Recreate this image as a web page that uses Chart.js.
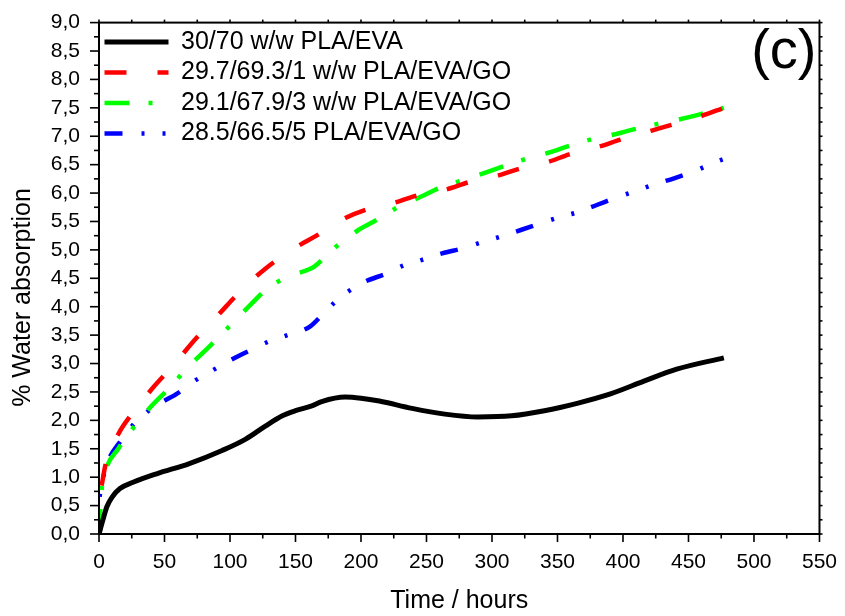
<!DOCTYPE html>
<html>
<head>
<meta charset="utf-8">
<script src="https://cdn.jsdelivr.net/npm/chart.js@4.4.1/dist/chart.umd.min.js"></script>
<style>
  html, body { margin: 0; padding: 0; background: #fff; }
  #wrap { width: 845px; height: 616px; position: relative; }
</style>
</head>
<body>
<div id="wrap"><canvas id="waterChart"></canvas></div>
<script>
'use strict';

// legend texts
const seriesLabels = [
    '30/70 w/w PLA/EVA',
    '29.7/69.3/1 w/w PLA/EVA/GO',
    '29.1/67.9/3 w/w PLA/EVA/GO',
    '28.5/66.5/5 PLA/EVA/GO'
];

// 30/70 PLA/EVA
const hoursBlend = [0, 3, 6, 10, 16, 26, 44, 69, 94, 112, 127, 140, 150, 163, 170, 188, 200, 214, 239, 264, 289, 315, 340, 365, 391, 416, 441, 477];
const waterBlend = [0, 0.25, 0.48, 0.65, 0.8, 0.91, 1.06, 1.24, 1.47, 1.67, 1.9, 2.08, 2.17, 2.26, 2.33, 2.41, 2.39, 2.34, 2.21, 2.11, 2.06, 2.08, 2.17, 2.3, 2.47, 2.69, 2.9, 3.1];

// 1 % GO
const hoursGo1 = [2, 5, 15, 24, 41, 56, 74, 90, 110, 127, 150, 166, 188, 204, 227, 243, 266, 282, 305, 320, 343, 359, 382, 398, 422, 437, 459, 477];
const waterGo1 = [0.85, 1.22, 1.77, 2.08, 2.57, 2.95, 3.44, 3.83, 4.32, 4.67, 5.04, 5.25, 5.56, 5.71, 5.84, 5.96, 6.07, 6.19, 6.31, 6.42, 6.55, 6.68, 6.82, 6.94, 7.1, 7.2, 7.35, 7.5];

// 3 % GO
const hoursGo3 = [0, 2, 4.6, 14.7, 25.6, 38, 55, 68, 83, 101, 115, 130, 148, 164, 179, 198, 213, 228, 246, 261, 277, 295, 310, 326, 343, 359, 375, 393, 408, 423, 442, 458, 477];
const waterGo3 = [0, 0.77, 1.09, 1.5, 1.85, 2.2, 2.6, 2.94, 3.27, 3.69, 4.02, 4.35, 4.56, 4.7, 5.02, 5.35, 5.54, 5.75, 5.94, 6.1, 6.22, 6.36, 6.48, 6.6, 6.71, 6.83, 6.94, 7.03, 7.12, 7.2, 7.29, 7.38, 7.5];

// 5 % GO
const hoursGo5 = [0, 0.5, 2.8, 7, 15.4, 26.8, 42, 59, 72, 86, 102, 117, 130, 145, 161, 175, 188, 203, 219, 233, 246, 262, 278, 293, 306, 322, 336, 352, 365, 380, 396, 410, 425, 439, 455, 470, 477];
const waterGo5 = [0, 0.63, 0.97, 1.29, 1.6, 1.94, 2.24, 2.46, 2.68, 2.87, 3.08, 3.25, 3.39, 3.51, 3.65, 3.97, 4.23, 4.44, 4.58, 4.73, 4.82, 4.94, 5.03, 5.14, 5.23, 5.35, 5.46, 5.58, 5.66, 5.79, 5.93, 6.04, 6.16, 6.26, 6.39, 6.54, 6.6];

const xTicksMax = 550;
const yTicksMax = 9;

const FONT = "'Liberation Sans', Arial, Helvetica, sans-serif";

function toPoints(xs, ys) {
    return xs.map(function (x, i) { return { x: x, y: ys[i] }; });
}

Chart.defaults.color = '#000';
Chart.defaults.font.family = FONT;

// frame, minor ticks, y title and panel letter
const frameTicks = {
    id: 'frameTicks',
    afterDraw: function (chart) {
        const ctx = chart.ctx;
        const a = chart.chartArea;
        const x = chart.scales.x;
        const y = chart.scales.y;
        function seg(x1, y1, x2, y2) {
            ctx.beginPath();
            ctx.moveTo(x1, y1);
            ctx.lineTo(x2, y2);
            ctx.stroke();
        }
        ctx.save();
        ctx.strokeStyle = '#000';
        ctx.lineWidth = 1.6;
        for (let v = 0; v <= xTicksMax; v += 25) {
            const px = x.getPixelForValue(v);
            const major = v % 50 === 0;
            seg(px, a.bottom, px, a.bottom + (major ? 8 : 4.5));
            seg(px, a.top, px, a.top - 3);
        }
        for (let i = 0; i <= yTicksMax * 4; i++) {
            const py = y.getPixelForValue(i * 0.25);
            const major = i % 2 === 0;
            seg(a.left, py, a.left - (major ? 9 : 5), py);
            seg(a.right, py, a.right + 3, py);
        }
        ctx.lineWidth = 2;
        ctx.strokeRect(a.left, a.top, a.right - a.left, a.bottom - a.top);

        ctx.fillStyle = '#000';
        ctx.font = '25px ' + FONT;
        ctx.textAlign = 'center';
        ctx.textBaseline = 'middle';
        ctx.translate(23, 297.5);
        ctx.rotate(-Math.PI / 2);
        ctx.fillText('% Water absorption', 0, 0);
        ctx.restore();

        ctx.save();
        ctx.fillStyle = '#000';
        ctx.font = '56px ' + FONT;
        ctx.textAlign = 'right';
        ctx.textBaseline = 'alphabetic';
        ctx.fillText('(c)', a.right - 3, 68);
        ctx.restore();
    }
};

const ctx = document.getElementById('waterChart');
const waterChart = new Chart(ctx, {
    type: 'line',
    data: {
        datasets: [
            {
                label: seriesLabels[0],
                data: toPoints(hoursBlend, waterBlend),
                borderColor: '#000000',
                borderWidth: 5
            },
            {
                label: seriesLabels[1],
                data: toPoints(hoursGo1, waterGo1),
                borderColor: '#ff0000',
                borderWidth: 4.5,
                borderDash: [22, 31]
            },
            {
                label: seriesLabels[2],
                data: toPoints(hoursGo3, waterGo3),
                borderColor: '#00ff00',
                borderWidth: 4.5,
                borderDash: [25, 19, 4, 21]
            },
            {
                label: seriesLabels[3],
                data: toPoints(hoursGo5, waterGo5),
                borderColor: '#0000ff',
                borderWidth: 4.5,
                borderDash: [18, 19, 3, 18, 3, 18]
            }
        ]
    },
    options: {
        responsive: true,
        maintainAspectRatio: false,
        animation: false,
        devicePixelRatio: 1,
        layout: { padding: { left: 0, right: 22, top: 19, bottom: 0 } },
        elements: {
            point: { radius: 0, hoverRadius: 0, rotation: 180 },
            line: { fill: false, cubicInterpolationMode: 'monotone', borderCapStyle: 'butt', borderJoinStyle: 'round' }
        },
        scales: {
            x: {
                type: 'linear',
                min: 0,
                max: xTicksMax,
                afterFit: function (scale) { scale.height = 82; },
                grid: { display: false, drawTicks: true, tickLength: 8 },
                border: { display: false },
                ticks: { stepSize: 50, padding: 8, font: { size: 21 } },
                title: { display: true, text: 'Time / hours', font: { size: 25 }, padding: { top: 0, bottom: 0 } }
            },
            y: {
                min: 0,
                max: yTicksMax,
                afterFit: function (scale) { scale.width = 99; },
                grid: { display: false, drawTicks: true, tickLength: 9 },
                border: { display: false },
                ticks: {
                    stepSize: 0.5,
                    padding: 10,
                    font: { size: 21 },
                    callback: function (v) { return v.toFixed(1).replace('.', ','); }
                }
            }
        },
        plugins: {
            tooltip: { enabled: false },
            legend: {
                position: 'chartArea',
                align: 'start',
                title: { display: true, text: '', font: { size: 3 }, padding: { top: 20.5, bottom: 0 } },
                labels: {
                    usePointStyle: true,
                    pointStyle: 'line',
                    pointStyleWidth: 64,
                    padding: 5.5,
                    color: '#000',
                    font: { size: 25 },
                    generateLabels: function (chart) {
                        const items = Chart.defaults.plugins.legend.labels.generateLabels(chart);
                        items.forEach(function (item) {
                            item.lineDash = chart.data.datasets[item.datasetIndex].borderDash || [];
                            item.lineCap = 'butt';
                        });
                        return items;
                    }
                }
            }
        }
    },
    plugins: [frameTicks]
});
</script>
</body>
</html>
